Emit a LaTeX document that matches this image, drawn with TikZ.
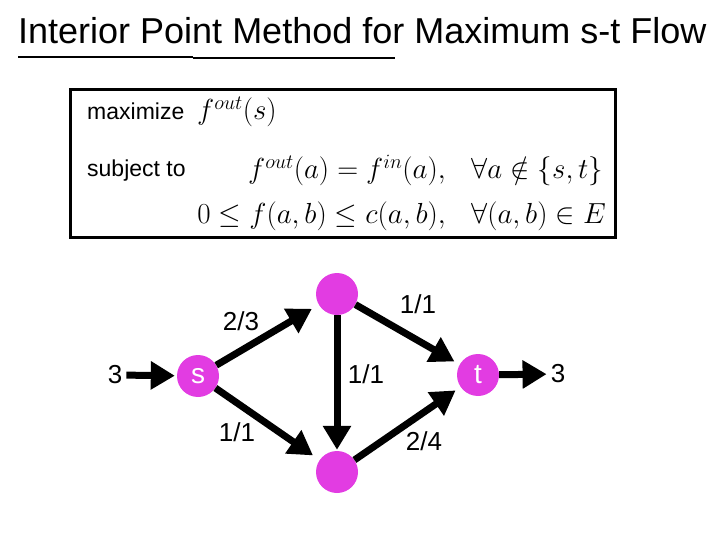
\RequirePackage{fix-cm}
\documentclass[tikz,border=0pt]{standalone}
\usepackage[no-math]{fontspec}
\setmainfont{Liberation Sans}
\usetikzlibrary{arrows.meta, positioning}
\definecolor{NodePink}{RGB}{226,60,226}

\begin{document}
\begin{tikzpicture}[x=1pt, y=-1pt,
    vertex/.style={circle, fill=NodePink, minimum size=42pt, inner sep=0pt,
                   text=white, font=\fontsize{28}{30}\selectfont},
    flow/.style={line width=7pt, -{Triangle[length=24pt, width=27pt]}, shorten >=4pt},
    flowlbl/.style={font=\fontsize{26}{28}\selectfont, inner sep=4pt},
    bodytxt/.style={font=\fontsize{23}{25}\selectfont, inner sep=0pt},
    eqn/.style={font=\fontsize{29}{32}\selectfont, inner sep=0pt}]
  \useasboundingbox (0,0) rectangle (720,540);

  \node[anchor=base west, inner sep=0pt, font=\fontsize{36}{40}\selectfont] (title) at (18,44)
    {Interior Point Method for Maximum s-t Flow};
  \draw[line width=2pt] (18,57) -- (193,57);
  \draw[line width=2pt] (193,58.5) -- (395,58.5);

  \draw[line width=3pt] (70,90) rectangle (615,237);
  \node[bodytxt, anchor=base west] (maxtxt) at (87,120) {maximize};
  \node[eqn, anchor=base west] (objective) at (197,120) {$f^{out}(s)$};
  \node[bodytxt, anchor=base west] (subjtxt) at (87,177) {subject to};
  \node[eqn, anchor=base east] (conserve) at (446,179) {$f^{out}(a) = f^{in}(a),$};
  \node[eqn, anchor=base west] (conservefor) at (471,179) {$\forall a \notin \{s,t\}$};
  \node[eqn, anchor=base east] (capacity) at (446,223) {$0 \le f(a,b) \le c(a,b),$};
  \node[eqn, anchor=base west] (capacityfor) at (471,223) {$\forall (a,b) \in E$};

  \node[vertex] (s) at (198,376) {s};
  \node[vertex] (up) at (337,294) {};
  \node[vertex] (down) at (337,472) {};
  \node[vertex] (t) at (478,375) {t};
  \node[flowlbl] (inflow) at (115,375) {3};
  \node[flowlbl] (outflow) at (558,374) {3};

  \draw[flow, shorten >=2pt] (inflow) -- (s);
  \draw[flow, shorten >=0pt] (t) -- (outflow);
  \draw[flow, shorten >=8pt] (s) -- (up);
  \draw[flow, shorten >=8pt] (s) -- (down);
  \draw[flow, shorten >=1pt] (up) -- (down);
  \draw[flow, shorten >=6pt] (up) -- (t);
  \draw[flow, shorten >=6pt] (down) -- (t);

  \node[flowlbl] (lsu) at (241,321) {2/3};
  \node[flowlbl] (lsd) at (237,432) {1/1};
  \node[flowlbl] (lud) at (366,374) {1/1};
  \node[flowlbl] (lut) at (418,304) {1/1};
  \node[flowlbl] (ldt) at (424,441) {2/4};
\end{tikzpicture}
\end{document}
